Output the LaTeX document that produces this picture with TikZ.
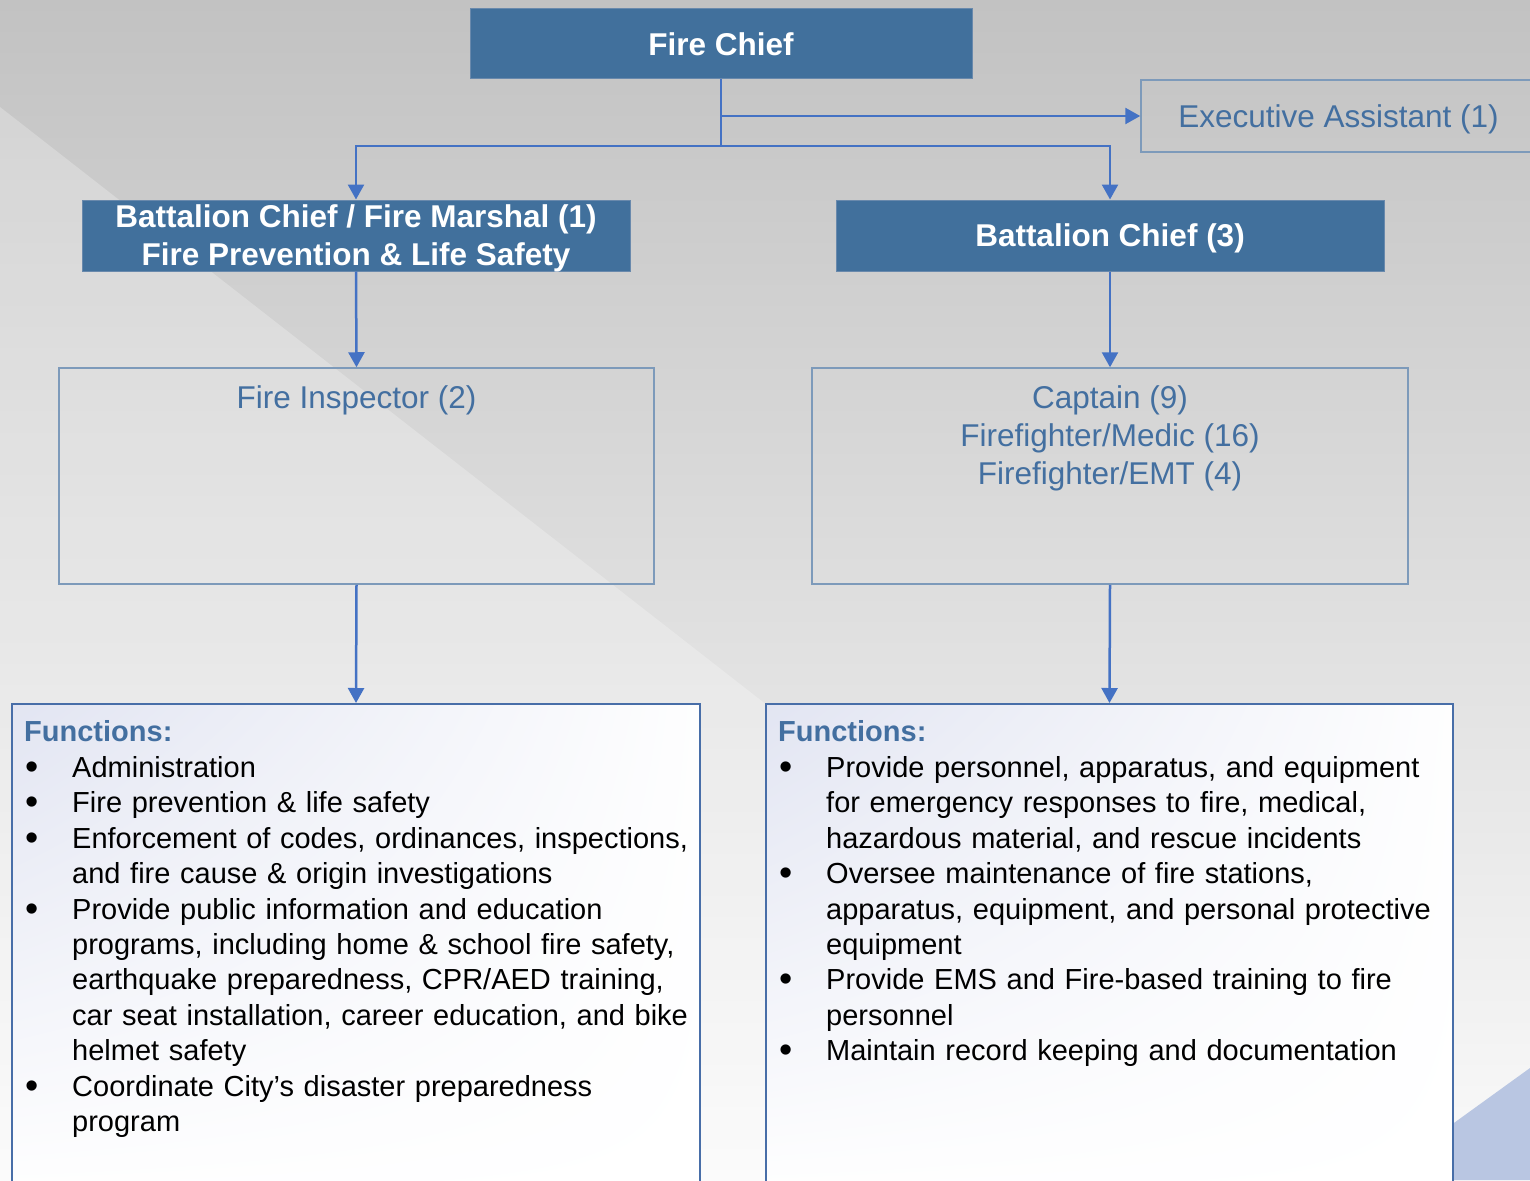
\documentclass[tikz,border=0pt]{standalone}
\usepackage{fontspec}
\setmainfont{Liberation Sans}
\usetikzlibrary{arrows.meta,shadings}

\definecolor{bgtop}{RGB}{194,194,194}
\definecolor{bgbot}{RGB}{250,250,250}
\definecolor{headfill}{RGB}{65,112,156}
\definecolor{headline}{RGB}{105,137,172}
\definecolor{linkblue}{RGB}{68,114,196}
\definecolor{outline}{RGB}{125,154,186}
\definecolor{labelblue}{RGB}{67,111,160}
\definecolor{panelline}{RGB}{72,110,168}
\definecolor{paneltint}{RGB}{226,229,242}
\definecolor{cornerblue}{RGB}{185,198,226}

\newcommand\labelfont{\fontsize{31.5}{38}\selectfont}
\newcommand\bodyfont{\fontsize{29}{35.45}\selectfont}
% one bullet point with a hanging indent; lines inside are broken with \newline
\newcommand\fitem[1]{\par\noindent\hangindent=48pt\hangafter=1%
  \makebox[48pt][l]{\hspace{1pt}\raisebox{-2pt}{\scalebox{1.3}{\textbullet}}}#1}

\tikzset{
  headbox/.style={fill=headfill, draw=headline, line width=1pt, text=white,
    font=\labelfont\bfseries, align=center, inner sep=0pt, text depth=0pt},
  staffbox/.style={draw=outline, line width=1.5pt, inner sep=0pt},
  stafftext/.style={text=labelblue, font=\labelfont, align=center, inner sep=0pt},
  link/.style={draw=linkblue, line width=2.5pt},
  linkarrow/.style={link, -{Triangle[length=15pt,width=16pt]}},
  panel/.style={draw=panelline, line width=2pt, inner sep=0pt,
    upper left=paneltint, upper right=white!96!paneltint,
    lower left=white, lower right=white},
  paneltext/.style={text width=670pt, align=left, font=\bodyfont,
    inner sep=0pt, anchor=north west},
}

\begin{document}
\begin{tikzpicture}[x=1pt,y=-1pt]
  \useasboundingbox (0,0) rectangle (1530,1180);

  % backdrop: vertical grey ramp, a lighter wedge and a blue corner
  \shade[top color=bgtop, bottom color=bgbot] (0,0) rectangle (1530,1180);
  \fill[white, opacity=0.25] (0,107) -- (1530,1300) -- (0,1300) -- cycle;
  \fill[cornerblue] (1530,1068) -- (1375,1180) -- (1530,1180) -- cycle;

  % command level
  \node[headbox, minimum width=502pt, minimum height=70pt] (chief) at (721,44) {Fire Chief};
  \node[staffbox, minimum width=395pt, minimum height=72pt] (ea) at (1338.5,116) {};
  \node[stafftext, text depth=0pt] (eatext) at (ea.center) {Executive Assistant (1)};

  % battalion level
  \node[headbox, minimum width=548pt, minimum height=71pt] (bcfm) at (356,235.5)
    {Battalion Chief / Fire Marshal (1)\\Fire Prevention \& Life Safety};
  \node[headbox, minimum width=548pt, minimum height=71pt] (bc) at (1110,235.5)
    {Battalion Chief (3)};

  % staff level
  \node[staffbox, minimum width=595pt, minimum height=216pt] (insp) at (356.5,476) {};
  \node[stafftext, anchor=north] (insptext) at (356.5,385) {Fire Inspector (2)};
  \node[staffbox, minimum width=596pt, minimum height=216pt] (crew) at (1110,476) {};
  \node[stafftext, anchor=north] (crewtext) at (1110,385)
    {Captain (9)\\Firefighter/Medic (16)\\Firefighter/EMT (4)};

  % function panels
  \node[panel, minimum width=688pt, minimum height=500pt, anchor=north] (fleft) at (356,703) {};
  \node[panel, minimum width=687pt, minimum height=500pt, anchor=north] (fright) at (1109.5,703) {};

  \node[paneltext] (fleftlist) at (24,720.6) {%
    {\bfseries\color{labelblue}Functions:}
    \fitem{Administration}
    \fitem{Fire prevention \& life safety}
    \fitem{Enforcement of codes, ordinances, inspections,\newline and fire cause \& origin investigations}
    \fitem{Provide public information and education\newline programs, including home \& school fire safety,\newline earthquake preparedness, CPR/AED training,\newline car seat installation, career education, and bike\newline helmet safety}
    \fitem{Coordinate City’s disaster preparedness\newline program}\par};

  \node[paneltext] (frightlist) at (778,720.6) {%
    {\bfseries\color{labelblue}Functions:}
    \fitem{Provide personnel, apparatus, and equipment\newline for emergency responses to fire, medical,\newline hazardous material, and rescue incidents}
    \fitem{Oversee maintenance of fire stations,\newline apparatus, equipment, and personal protective\newline equipment}
    \fitem{Provide EMS and Fire-based training to fire\newline personnel}
    \fitem{Maintain record keeping and documentation}\par};

  % reporting lines
  \coordinate (hub) at (721,146);
  \draw[link] (chief.south) -- (hub);
  \draw[linkarrow] (chief.south |- ea.west) -- (ea.west);
  \draw[linkarrow] (hub) -| (bcfm.north);
  \draw[linkarrow] (hub) -| (bc.north);
  \draw[linkarrow] (bcfm.south) -- (insp.north);
  \draw[linkarrow] (bc.south) -- (crew.north);
  \draw[linkarrow] (insp.south) -- (fleft.north);
  \draw[linkarrow] (crew.south) -- (fright.north);
\end{tikzpicture}
\end{document}
